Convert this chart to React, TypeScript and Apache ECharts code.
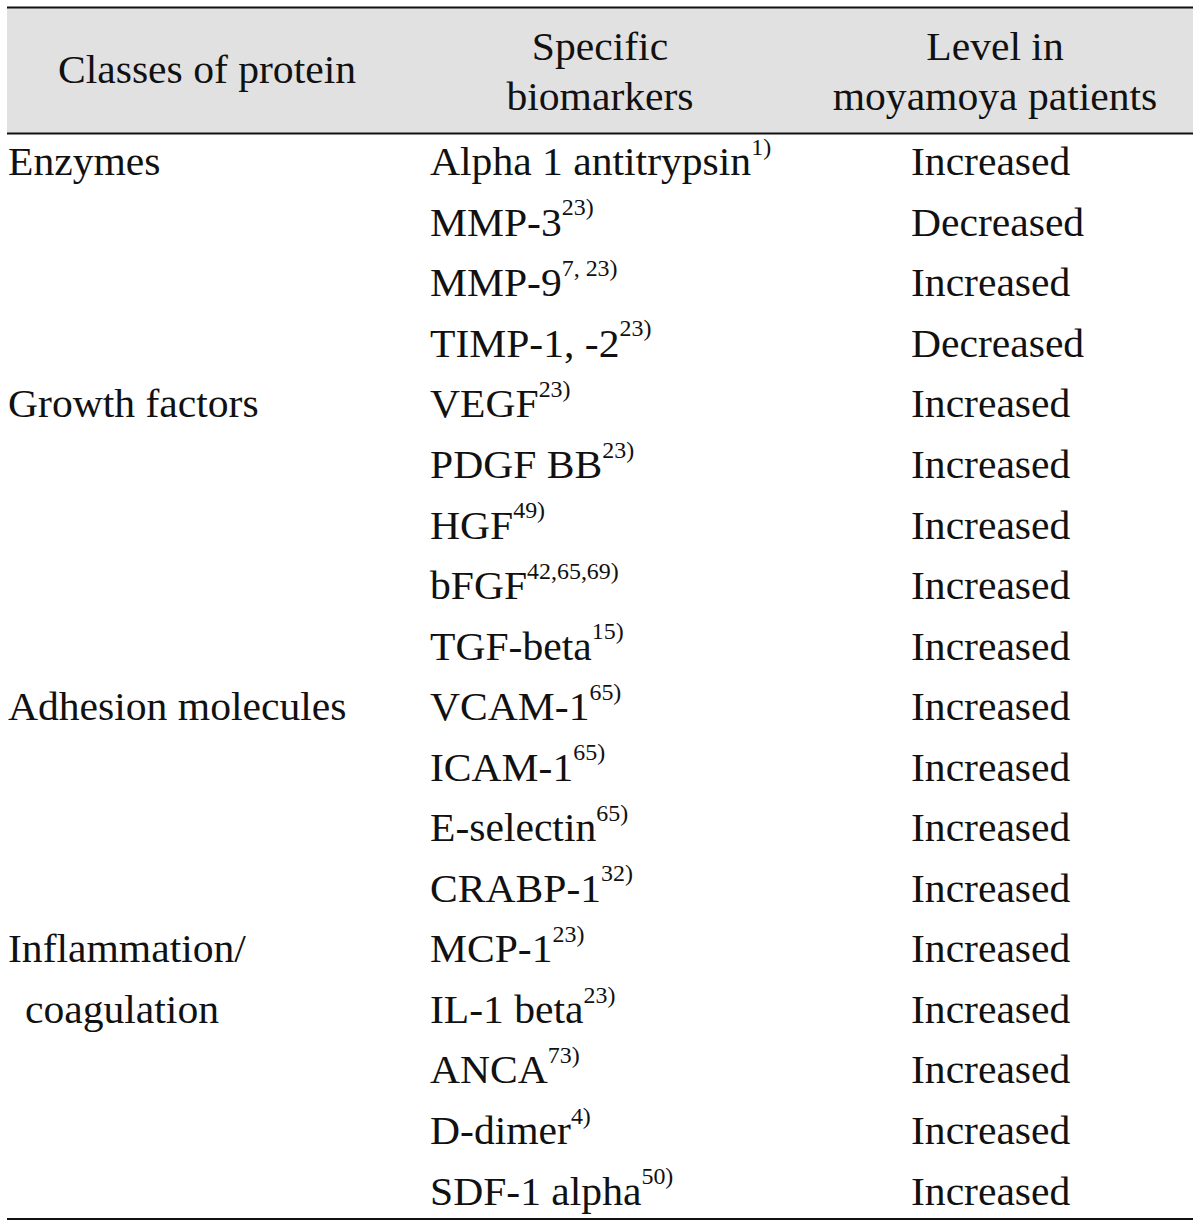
import React, { useEffect, useRef } from "react";
import * as echarts from "echarts";

const headerClasses = "Classes of protein";
const headerBiomarkers = ["Specific", "biomarkers"];
const headerLevel = ["Level in", "moyamoya patients"];

// class label groups: starting row index and label lines
const classRows = [0, 4, 9, 13];
const classLabels = [["Enzymes"], ["Growth factors"], ["Adhesion molecules"], ["Inflammation/", "coagulation"]];

const biomarkers = [
  "Alpha 1 antitrypsin", "MMP-3", "MMP-9", "TIMP-1, -2",
  "VEGF", "PDGF BB", "HGF", "bFGF", "TGF-beta",
  "VCAM-1", "ICAM-1", "E-selectin", "CRABP-1",
  "MCP-1", "IL-1 beta", "ANCA", "D-dimer", "SDF-1 alpha",
];
const references = [
  "1)", "23)", "7, 23)", "23)",
  "23)", "23)", "49)", "42,65,69)", "15)",
  "65)", "65)", "65)", "32)",
  "23)", "23)", "73)", "4)", "50)",
];
const levels = [
  "Increased", "Decreased", "Increased", "Decreased",
  "Increased", "Increased", "Increased", "Increased", "Increased",
  "Increased", "Increased", "Increased", "Increased",
  "Increased", "Increased", "Increased", "Increased", "Increased",
];

const FONT = '"Liberation Serif", "Times New Roman", serif';
const INK = "#111111";

export default function App() {
  const ref = useRef<HTMLDivElement>(null);
  useEffect(() => {
    if (!ref.current) return;
    const chart = echarts.init(ref.current, undefined, { renderer: "svg" });
    const left = 7;
    const right = 1193;
    const rowTop = 162;
    const rowStep = 60.55;
    const fs = 40;
    const sx = 1.04;
    const col1 = 8;
    const col2 = 430;
    const col3 = 911;

    const els: any[] = [];
    els.push({ type: "rect", shape: { x: left, y: 8, width: right - left, height: 125 }, style: { fill: "#e1e1e1" }, z: 0 });
    els.push({ type: "line", shape: { x1: left, y1: 7.5, x2: right, y2: 7.5 }, style: { stroke: "#111", lineWidth: 2 }, z: 2 });
    els.push({ type: "line", shape: { x1: left, y1: 133.5, x2: right, y2: 133.5 }, style: { stroke: "#111", lineWidth: 2 }, z: 2 });
    els.push({ type: "line", shape: { x1: left, y1: 1219, x2: right, y2: 1219 }, style: { stroke: "#111", lineWidth: 2 }, z: 2 });

    const txt = (text: string, x: number, y: number, align: string) => ({
      type: "text",
      z: 3,
      x,
      y,
      scaleX: sx,
      style: { text, x: 0, y: 0, font: `${fs}px ${FONT}`, fill: INK, align, verticalAlign: "middle" },
    });

    els.push(txt(headerClasses, 207, 70, "center"));
    headerBiomarkers.forEach((t, i) => els.push(txt(t, 600, 47 + i * 50, "center")));
    headerLevel.forEach((t, i) => els.push(txt(t, 995, 47 + i * 50, "center")));

    classLabels.forEach((lines, g) => {
      lines.forEach((t, k) => {
        els.push(txt(t, col1 + (k > 0 ? 17 : 0), rowTop + (classRows[g] + k) * rowStep, "left"));
      });
    });

    biomarkers.forEach((b, i) => {
      els.push({
        type: "text",
        z: 3,
        x: col2,
        y: rowTop + i * rowStep,
        scaleX: sx,
        style: {
          text: `{m|${b}}{s|${references[i]}}`,
          x: 0,
          y: 0,
          align: "left",
          verticalAlign: "middle",
          fill: INK,
          font: `${fs}px ${FONT}`,
          rich: {
            m: { fontSize: fs, fontFamily: FONT, lineHeight: 53, fill: INK, color: INK },
            s: { fontSize: 23, fontFamily: FONT, lineHeight: 23, verticalAlign: "top", fill: INK, color: INK },
          },
        },
      });
    });

    levels.forEach((l, i) => els.push(txt(l, col3, rowTop + i * rowStep, "left")));

    chart.setOption({ animation: false, graphic: { elements: els } });
    return () => chart.dispose();
  }, []);
  return <div ref={ref} style={{ position: "absolute", left: 0, top: 0, width: 1200, height: 1228, background: "#fff" }} />;
}
